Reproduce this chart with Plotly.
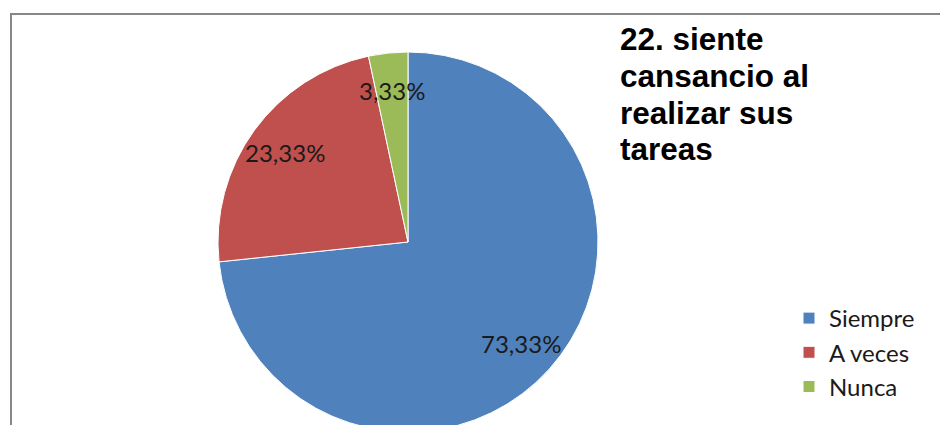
import math
import plotly.graph_objects as go

categories = ["Siempre", "A veces", "Nunca"]
values = [22, 7, 1]
colors = ["#4F81BD", "#C0504D", "#9BBB59"]
title_lines = ["22. siente", "cansancio al", "realizar sus", "tareas"]

W, H = 940, 440
CX, CY, R = 408, 242, 190  # pie centre / radius in pixels (layout)
LABEL_FRAC = 0.8

fig = go.Figure(go.Pie(
    labels=categories, values=values, sort=False, direction="clockwise", rotation=0,
    marker=dict(colors=colors, line=dict(color="white", width=1)),
    textinfo="none",
    domain=dict(x=[(CX - R) / W, (CX + R) / W], y=[(H - CY - R) / H, (H - CY + R) / H]),
    hoverinfo="skip",
))

# data labels, placed on each slice's bisector
total = sum(values)
start = 0.0
for v in values:
    frac = v / total
    mid = (start + frac / 2) * 2 * math.pi
    start += frac
    px = CX + LABEL_FRAC * R * math.sin(mid)
    py = CY - LABEL_FRAC * R * math.cos(mid)
    txt = ("%.2f" % (frac * 100)).replace(".", ",") + "%"
    fig.add_annotation(text=txt, xref="paper", yref="paper", x=px / W, y=(H - py) / H,
                       xanchor="center", yanchor="middle", showarrow=False,
                       font=dict(family="Lato", size=24, color="#1a1a1a"))

line_bottoms = [59, 96, 133, 169]
for line, b in zip(title_lines, line_bottoms):
    fig.add_annotation(text="<b>%s</b>" % line, xref="paper", yref="paper",
                       x=618 / W, y=(H - b) / H, xanchor="left", yanchor="bottom",
                       showarrow=False, align="left",
                       font=dict(family="Liberation Sans", size=31.5, color="#000000"))

fig.add_shape(type="rect", xref="paper", yref="paper", x0=11 / W, x1=1.02, y0=-0.05, y1=(H - 14) / H,
              line=dict(color="#878787", width=2), fillcolor="rgba(0,0,0,0)", layer="below")

fig.update_layout(
    width=W, height=H, margin=dict(l=0, r=0, t=0, b=0, autoexpand=False),
    paper_bgcolor="white", plot_bgcolor="white",
    showlegend=True,
    legend=dict(xref="paper", yref="paper", x=789 / W, y=(H - 296) / H,
                xanchor="left", yanchor="top", font=dict(family="Lato", size=24, color="#1a1a1a"),
                bgcolor="rgba(0,0,0,0)", borderwidth=0),
)

fig.write_html("out.html", config={"displayModeBar": False},
               post_script="document.body.style.margin='0';document.body.style.overflow='hidden';")
